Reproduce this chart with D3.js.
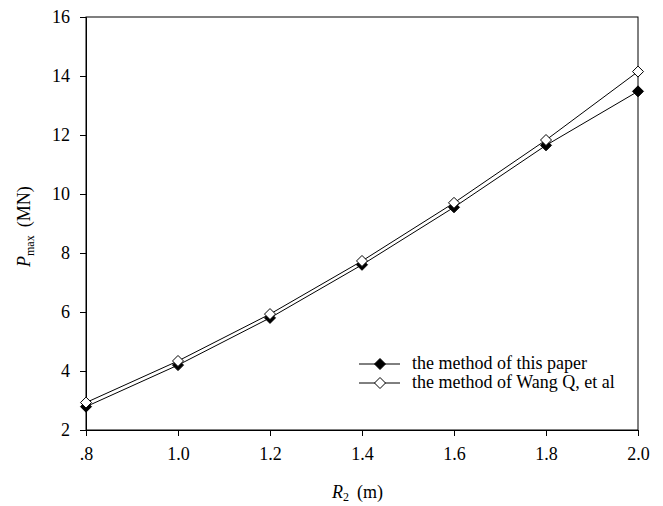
<!DOCTYPE html>
<html>
<head>
<meta charset="utf-8">
<script src="https://cdn.jsdelivr.net/npm/d3@7"></script>
<style>
  body { margin: 0; background: #fff; }
  text { font-family: "Liberation Serif", "Times New Roman", serif; fill: #000; }
</style>
</head>
<body>
<script>
// data
var r2 = [0.8, 1.0, 1.2, 1.4, 1.6, 1.8, 2.0];
var thisPaper = [2.79, 4.2, 5.8, 7.6, 9.55, 11.65, 13.48];
var wangQ = [2.93, 4.34, 5.93, 7.73, 9.7, 11.83, 14.15];
var xTickLabels = [".8", "1.0", "1.2", "1.4", "1.6", "1.8", "2.0"];
var yTicks = [2, 4, 6, 8, 10, 12, 14, 16];
var seriesNames = ["the method of this paper", "the method of Wang Q, et al"];

var W = 663, H = 506;
var pL = 86, pR = 638, pT = 17, pB = 430;

var svg = d3.select("body").append("svg")
    .attr("width", W).attr("height", H);

var x = d3.scaleLinear().domain([0.8, 2.0]).range([pL, pR]);
var y = d3.scaleLinear().domain([2, 16]).range([pB, pT]);

// frame
svg.append("rect")
    .attr("x", pL).attr("y", pT)
    .attr("width", pR - pL).attr("height", pB - pT)
    .attr("fill", "none").attr("stroke", "#000").attr("stroke-width", 1);

var xAxis = d3.axisBottom(x).tickValues(r2)
    .tickFormat(function (d, i) { return xTickLabels[i]; })
    .tickSize(6).tickPadding(10);
var gx = svg.append("g").attr("transform", "translate(0," + pB + ")").call(xAxis);

var yAxis = d3.axisLeft(y).tickValues(yTicks).tickSize(6).tickPadding(10);
var gy = svg.append("g").attr("transform", "translate(" + pL + ",0)").call(yAxis);

[gx, gy].forEach(function (g) {
  g.select(".domain").attr("stroke", "#000");
  g.selectAll(".tick line").attr("stroke", "#000");
  g.selectAll(".tick text").style("font-size", "18px")
    .style("font-family", "'Liberation Serif', 'Times New Roman', serif");
});
gx.selectAll(".tick text").attr("dy", "0.75em");

// diamond marker
function diamond(r) {
  return "M0," + (-r) + "L" + r + ",0L0," + r + "L" + (-r) + ",0Z";
}

var line = d3.line()
    .x(function (d, i) { return x(r2[i]); })
    .y(function (d) { return y(d); });

function drawSeries(vals, fill) {
  svg.append("path").datum(vals)
      .attr("d", line).attr("fill", "none")
      .attr("stroke", "#000").attr("stroke-width", 1);
  svg.selectAll(null).data(vals).enter().append("path")
      .attr("d", diamond(5.5))
      .attr("transform", function (d, i) { return "translate(" + x(r2[i]) + "," + y(d) + ")"; })
      .attr("fill", fill).attr("stroke", "#000").attr("stroke-width", 1);
}
drawSeries(thisPaper, "#000");
drawSeries(wangQ, "#fff");

// legend
var leg = svg.append("g");
[["#000", 364], ["#fff", 383]].forEach(function (o, i) {
  leg.append("line").attr("x1", 359).attr("x2", 400)
      .attr("y1", o[1]).attr("y2", o[1]).attr("stroke", "#000");
  leg.append("path").attr("d", diamond(5.5))
      .attr("transform", "translate(380," + o[1] + ")")
      .attr("fill", o[0]).attr("stroke", "#000");
  leg.append("text").attr("x", 412).attr("y", o[1] + 5)
      .style("font-size", "18px").text(seriesNames[i]);
});

// axis titles
var xl = svg.append("text").attr("x", 332).attr("y", 498).style("font-size", "18px");
xl.append("tspan").style("font-style", "italic").text("R");
xl.append("tspan").attr("dy", 3).style("font-size", "12px").text("2");
xl.append("tspan").attr("dy", -3).attr("dx", 8).text("(m)");

var yl = svg.append("text")
    .attr("transform", "translate(30,267) rotate(-90)")
    .attr("x", 0).attr("y", 0).style("font-size", "18px");
yl.append("tspan").style("font-style", "italic").text("P");
yl.append("tspan").attr("dy", 4).style("font-size", "12px").text("max");
yl.append("tspan").attr("dy", -4).attr("dx", 8).text("(MN)");
</script>
</body>
</html>
